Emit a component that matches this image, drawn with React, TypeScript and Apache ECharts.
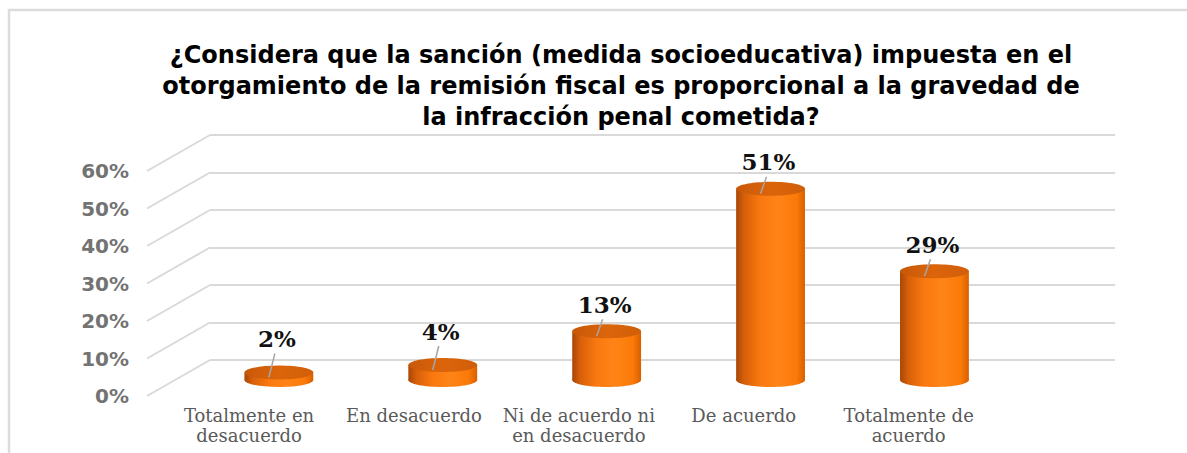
import React, { useEffect, useRef } from "react";
import * as echarts from "echarts";

const titleText =
  "¿Considera que la sanción (medida socioeducativa) impuesta en el\notorgamiento de la remisión fiscal es proporcional a la gravedad de\nla infracción penal cometida?";
const categories = [
  "Totalmente en\ndesacuerdo",
  "En desacuerdo",
  "Ni de acuerdo ni\nen desacuerdo",
  "De acuerdo",
  "Totalmente de\nacuerdo",
];
const values = [0.02, 0.04, 0.13, 0.51, 0.29];
const yTicks = [0, 0.1, 0.2, 0.3, 0.4, 0.5, 0.6];
const yMin = 0;
const yMax = 0.6;
const yInterval = 0.1;

const pct = (v: number) => Math.round(v * 100) + "%";

export default function App() {
  const ref = useRef<HTMLDivElement>(null);
  useEffect(() => {
    if (!ref.current) return;
    const chart = echarts.init(ref.current, null, { renderer: "svg" });
    const grid = "#d9d9d9";
    const bodyGrad = () =>
      new echarts.graphic.LinearGradient(0, 0, 1, 0, [
        { offset: 0, color: "#a84606" },
        { offset: 0.12, color: "#d8600a" },
        { offset: 0.35, color: "#f9780f" },
        { offset: 0.6, color: "#ff8418" },
        { offset: 0.88, color: "#fb7a08" },
        { offset: 1, color: "#d86000" },
      ]);
    const topGrad = () =>
      new echarts.graphic.LinearGradient(0, 0, 1, 0, [
        { offset: 0, color: "#c85808" },
        { offset: 0.5, color: "#dc650b" },
        { offset: 1, color: "#d05e08" },
      ]);
    const option: any = {
      animation: false,
      backgroundColor: "#ffffff",
      title: {
        text: titleText,
        left: 616,
        top: 34,
        textAlign: "center",
        textStyle: {
          fontFamily: "DejaVu Sans",
          fontWeight: "bold",
          fontSize: 24,
          lineHeight: 31,
          color: "#000000",
        },
      },
      graphic: [
        {
          type: "rect",
          shape: { x: 9, y: 10, width: 1200, height: 460 },
          style: { fill: "none", stroke: "#dcdcdc", lineWidth: 2.5 },
          silent: true,
        },
      ],
      grid: [
        { left: 210, right: 72, top: 135, bottom: 93 },
        { left: 166.6, width: 824.5, top: 171, bottom: 57 },
        { left: 196.9, width: 819.5, top: 155, bottom: 73 },
      ],
      xAxis: [
        { gridIndex: 0, type: "value", min: 0, max: 1, show: false },
        {
          gridIndex: 1,
          type: "category",
          data: categories,
          axisLine: { show: false },
          axisTick: { show: false },
          axisLabel: {
            margin: 9,
            interval: 0,
            fontFamily: "DejaVu Serif",
            fontSize: 18,
            lineHeight: 20,
            color: "#595959",
          },
        },
        { gridIndex: 2, type: "category", data: categories, show: false },
      ],
      yAxis: [
        {
          gridIndex: 0,
          type: "value",
          min: yMin,
          max: yMax,
          interval: yInterval,
          axisLabel: { show: false },
          axisLine: { show: false },
          axisTick: { show: false },
          splitLine: { lineStyle: { color: grid, width: 2 } },
        },
        {
          gridIndex: 1,
          type: "value",
          min: yMin,
          max: yMax,
          interval: yInterval,
          offset: 19.6,
          axisLine: { show: false },
          axisTick: { show: false },
          splitLine: { show: false },
          axisLabel: {
            margin: 18,
            formatter: (v: number) => pct(v),
            fontFamily: "DejaVu Sans",
            fontWeight: "bold",
            fontSize: 20,
            color: "#737373",
          },
        },
        { gridIndex: 2, type: "value", min: yMin, max: yMax, show: false },
      ],
      series: [
        {
          type: "custom",
          xAxisIndex: 0,
          yAxisIndex: 0,
          silent: true,
          z: 1,
          data: yTicks.map((t) => [0, t]),
          renderItem: (_p: any, api: any) => {
            const p = api.coord([api.value(0), api.value(1)]);
            return {
              type: "line",
              shape: { x1: p[0], y1: p[1], x2: p[0] - 63, y2: p[1] + 36 },
              style: { stroke: grid, lineWidth: 2 },
            };
          },
        },
        {
          type: "custom",
          xAxisIndex: 2,
          yAxisIndex: 2,
          silent: true,
          z: 5,
          data: values.map((v, i) => [i, v]),
          renderItem: (_p: any, api: any) => {
            const i = api.value(0);
            const v = api.value(1);
            const base = api.coord([i, 0]);
            const top = api.coord([i, v]);
            const band = api.size([1, 0])[0];
            const rx = band * 0.21;
            const ry = 7;
            const cx = base[0];
            const lift = v < 0.1 ? 34 : 27;
            return {
              type: "group",
              children: [
                {
                  type: "ellipse",
                  shape: { cx, cy: base[1], rx, ry },
                  style: { fill: bodyGrad() },
                },
                {
                  type: "rect",
                  shape: { x: cx - rx, y: top[1], width: rx * 2, height: base[1] - top[1] },
                  style: { fill: bodyGrad() },
                },
                {
                  type: "ellipse",
                  shape: { cx, cy: top[1], rx, ry },
                  style: { fill: topGrad() },
                },
                {
                  type: "line",
                  shape: { x1: cx - 10, y1: top[1] + 5, x2: cx - 4, y2: top[1] - lift + 15 },
                  style: { stroke: "#a6a6a6", lineWidth: 1.5 },
                },
                {
                  type: "text",
                  x: cx - 2,
                  y: top[1] - lift,
                  style: {
                    text: pct(v),
                    align: "center",
                    verticalAlign: "middle",
                    fontFamily: "DejaVu Serif",
                    fontWeight: "bold",
                    fontSize: 23,
                    fill: "#111111",
                  },
                },
              ],
            };
          },
        },
      ],
    };
    chart.setOption(option);
    return () => chart.dispose();
  }, []);
  return (
    <div
      ref={ref}
      style={{ position: "fixed", left: 0, top: 0, width: 1187, height: 453 }}
    />
  );
}
